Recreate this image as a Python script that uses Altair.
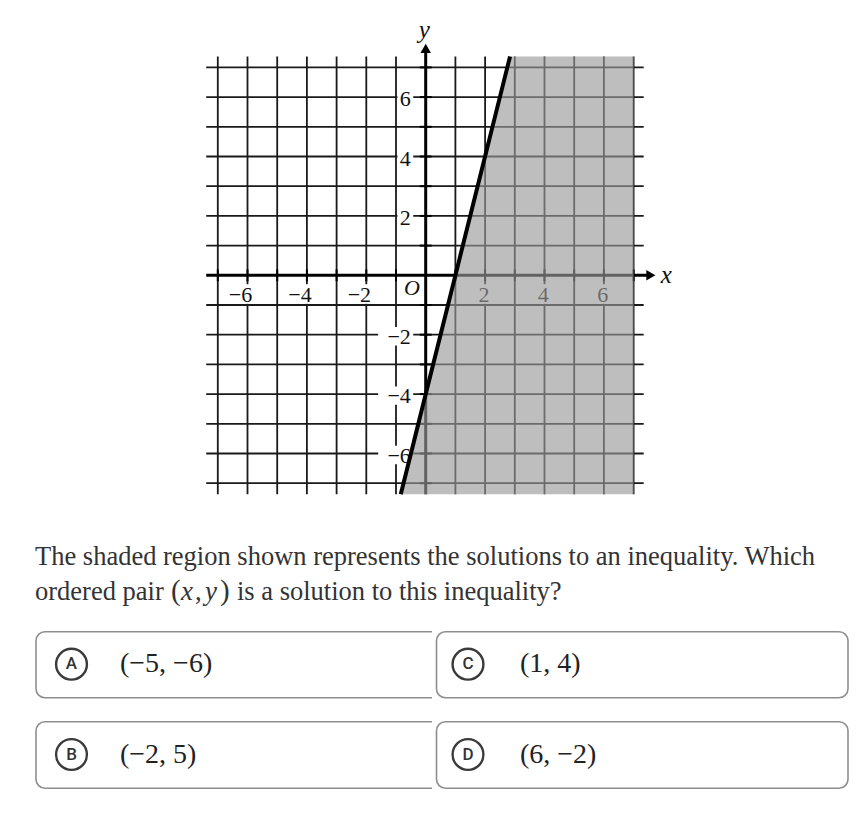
import altair as alt
import pandas as pd

# ---------------- data ----------------
grid_values = [-7, -6, -5, -4, -3, -2, -1, 1, 2, 3, 4, 5, 6, 7]
tick_values = [-7, -6, -5, -4, -3, -2, -1, 1, 2, 3, 4, 5, 6, 7]
x_label_values = [-6, -4, -2, 2, 4, 6]
y_label_values = [-6, -4, -2, 2, 4, 6]
grid_low, grid_high = -7.37, 7.37
boundary_x = [-0.84, 2.84]          # line y = 4x - 4 at the grid edges
boundary_y = [-7.37, 7.37]
shade_right_x = [7, 7]

question_line1 = "The shaded region shown represents the solutions to an inequality. Which"
question_line2 = ["ordered pair", "(", "x", ",", "y", ")", "is a solution to this inequality?"]
choice_letters = ["A", "B", "C", "D"]
choice_texts = ["(−5, −6)", "(−2, 5)", "(1, 4)", "(6, −2)"]

# ---------------- geometry ----------------
W, H = 852, 800
UNIT = 29.7
X0_PAGE, Y0_PAGE = 425.7, 275.3
x_dom = [-(X0_PAGE - 8) / UNIT, (8 + W - X0_PAGE) / UNIT]
y_dom = [-(8 + H - Y0_PAGE) / UNIT, (Y0_PAGE - 8) / UNIT]
xs = alt.Scale(domain=x_dom, nice=False, zero=False)
ys = alt.Scale(domain=y_dom, nice=False, zero=False)


def X(f):
    return alt.X(f, type="quantitative", scale=xs, axis=None)


def Y(f):
    return alt.Y(f, type="quantitative", scale=ys, axis=None)


def PX(f):
    return alt.X(f, type="quantitative", scale=None)


def PY(f):
    return alt.Y(f, type="quantitative", scale=None)


SERIF = "Liberation Serif"
INK = "#111111"

# grid
vgrid = pd.DataFrame({"v": grid_values, "lo": grid_low, "hi": grid_high})
hgrid = pd.DataFrame({"v": grid_values, "lo": -7.39, "hi": 7.34})
grid_v = alt.Chart(vgrid).mark_rule(color="#1a1a1a", strokeWidth=1.8).encode(
    x=X("v"), y=Y("lo"), y2="hi")
grid_h = alt.Chart(hgrid).mark_rule(color="#1a1a1a", strokeWidth=1.8).encode(
    y=Y("v"), x=X("lo"), x2="hi")

# axes
xaxis = alt.Chart(pd.DataFrame({"y": [0], "a": [-7.39], "b": [7.45]})).mark_rule(
    color="black", strokeWidth=3).encode(y=Y("y"), x=X("a"), x2="b")
yaxis = alt.Chart(pd.DataFrame({"x": [0], "a": [grid_low], "b": [7.55]})).mark_rule(
    color="black", strokeWidth=3).encode(x=X("x"), y=Y("a"), y2="b")

# ticks on axes
tx = pd.DataFrame({"t": tick_values, "a": -0.2, "b": 0.2})
xticks = alt.Chart(tx).mark_rule(color="black", strokeWidth=2).encode(x=X("t"), y=Y("a"), y2="b")
yticks = alt.Chart(tx).mark_rule(color="black", strokeWidth=2).encode(y=Y("t"), x=X("a"), x2="b")

# label backgrounds
xl = pd.DataFrame({"t": x_label_values})
xl["lab"] = [("−" + str(-v)) if v < 0 else str(v) for v in x_label_values]
xl["x0"] = [t - 0.78 if t < 0 else t - 0.3 for t in x_label_values]
xl["x1"] = [t + 0.25 for t in x_label_values]
xl["y0"] = -0.3
xl["y1"] = -0.96
xl["tx"] = [t + 0.16 if t < 0 else t - 0.04 for t in x_label_values]
xl["ty"] = -0.67

yl = pd.DataFrame({"t": y_label_values})
yl["lab"] = [("−" + str(-v)) if v < 0 else str(v) for v in y_label_values]
yl["x0"] = [-1.6 if t < 0 else -0.95 for t in y_label_values]
yl["x1"] = -0.42
yl["y0"] = [t - 0.36 for t in y_label_values]
yl["y1"] = [t + 0.26 for t in y_label_values]
yl["ty"] = [t - 0.08 for t in y_label_values]
yl["tx"] = -0.5

xbox = alt.Chart(xl).mark_rect(color="white").encode(x=X("x0"), x2="x1", y=Y("y0"), y2="y1")
ybox = alt.Chart(yl).mark_rect(color="white").encode(x=X("x0"), x2="x1", y=Y("y0"), y2="y1")

xl_neg = xl[xl.t < 0]
xl_pos = xl[xl.t > 0]
xlab_neg = alt.Chart(xl_neg).mark_text(font=SERIF, fontSize=22, color=INK, align="right",
                                      baseline="middle").encode(x=X("tx"), y=Y("ty"), text="lab:N")
xlab_pos = alt.Chart(xl_pos).mark_text(font=SERIF, fontSize=22, color=INK, align="center",
                                      baseline="middle").encode(x=X("tx"), y=Y("ty"), text="lab:N")
ylab = alt.Chart(yl).mark_text(font=SERIF, fontSize=22, color=INK, align="right",
                               baseline="middle").encode(x=X("tx"), y=Y("ty"), text="lab:N")
origin = alt.Chart(pd.DataFrame({"x": [-0.46], "y": [-0.44], "s": ["O"]})).mark_text(
    font=SERIF, fontSize=22, fontStyle="italic", color=INK, baseline="middle", align="center"
).encode(x=X("x"), y=Y("y"), text="s:N")

# shaded solution region
shade_df = pd.DataFrame({"y": boundary_y, "x": boundary_x, "x2": shade_right_x})
shade = alt.Chart(shade_df).mark_area(orient="horizontal", color="#999999", opacity=0.64).encode(
    y=Y("y"), x=X("x"), x2="x2")

boundary = alt.Chart(pd.DataFrame({"x": boundary_x, "y": boundary_y})).mark_line(
    color="black", strokeWidth=4).encode(x=X("x"), y=Y("y"))

# arrows and axis letters
arrow_up = alt.Chart(pd.DataFrame({"x": [0], "y": [7.64]})).mark_point(
    shape="triangle-up", filled=True, color="black", size=110, opacity=1).encode(x=X("x"), y=Y("y"))
arrow_right = alt.Chart(pd.DataFrame({"x": [7.58], "y": [0]})).mark_point(
    shape="triangle-right", filled=True, color="black", size=110, opacity=1).encode(x=X("x"), y=Y("y"))
axis_letters = alt.Chart(pd.DataFrame({"x": [8.1, -0.05], "y": [0, 8.27], "s": ["x", "y"]})).mark_text(
    font=SERIF, fontSize=25, fontStyle="italic", color=INK, baseline="middle", align="center"
).encode(x=X("x"), y=Y("y"), text="s:N")

# ---------------- question text (pixel layout) ----------------
q1 = alt.Chart(pd.DataFrame({"s": [question_line1]})).mark_text(
    font=SERIF, fontSize=26.5, color="#333333", align="left", baseline="alphabetic"
).encode(x=alt.value(27), y=alt.value(557), text="s:N")

seg_x = [27, 163, 173, 187, 197, 212, 229]
seg_style = ["normal", "normal", "italic", "normal", "italic", "normal", "normal"]
seg_size = [26.5, 29, 27, 26.5, 27, 29, 26.5]
q2 = pd.DataFrame({"s": question_line2, "px": seg_x, "st": seg_style, "fs": seg_size, "py": 592})
q2_norm = alt.Chart(q2[q2.st == "normal"]).mark_text(
    font=SERIF, color="#333333", align="left", baseline="alphabetic"
).encode(x=PX("px"), y=PY("py"), text="s:N", size=alt.Size("fs:Q", scale=None))
q2_ital = alt.Chart(q2[q2.st == "italic"]).mark_text(
    font=SERIF, fontStyle="italic", color="#333333", align="left", baseline="alphabetic"
).encode(x=PX("px"), y=PY("py"), text="s:N", size=alt.Size("fs:Q", scale=None))

# ---------------- answer choices (pixel layout) ----------------
col_of = {"A": 0, "B": 0, "C": 1, "D": 1}
row_of = {"A": 0, "B": 1, "C": 0, "D": 1}
box_x0 = [28, 428.5]
box_x1 = [444, 840]
box_y0 = [623.7, 713.7]
box_y1 = [689.7, 780.3]
circle_x = [63.5, 460]
text_x = [112, 512]

ch = pd.DataFrame({"letter": choice_letters, "txt": choice_texts})
ch["c"] = ch.letter.map(col_of)
ch["r"] = ch.letter.map(row_of)
ch["x0"] = [box_x0[c] for c in ch.c]
ch["x1"] = [box_x1[c] for c in ch.c]
ch["y0"] = [box_y0[r] for r in ch.r]
ch["y1"] = [box_y1[r] for r in ch.r]
ch["cy"] = (ch.y0 + ch.y1) / 2 - 0.5
ch["cx"] = [circle_x[c] for c in ch.c]
ch["tx"] = [text_x[c] for c in ch.c]

box_style = dict(fill="white", stroke="#8e8e8e", strokeWidth=1.6, cornerRadius=9)
left_boxes = alt.Chart(ch[ch.c == 0]).mark_rect(**box_style).encode(
    x=PX("x0"), x2="x1", y=PY("y0"), y2="y1")
strip = alt.Chart(pd.DataFrame({"a": [424], "b": [446], "c": [615], "d": [790]})).mark_rect(
    color="white").encode(x=PX("a"), x2="b", y=PY("c"), y2="d")
right_boxes = alt.Chart(ch[ch.c == 1]).mark_rect(**box_style).encode(
    x=PX("x0"), x2="x1", y=PY("y0"), y2="y1")
circles = alt.Chart(ch).mark_point(shape="circle", size=950, filled=False, color="#3a3a3a",
                                   strokeWidth=2.4, opacity=1).encode(x=PX("cx"), y=PY("cy"))
letters = alt.Chart(ch).mark_text(font="Roboto", fontSize=17, fontWeight=500, color="#333333",
                                  align="center", baseline="middle").encode(
    x=PX("cx"), y=PY("cy"), text="letter:N")
answers = alt.Chart(ch).mark_text(font=SERIF, fontSize=28, color="#222222", align="left",
                                  baseline="middle").encode(x=PX("tx"), y=PY("cy"), text="txt:N")

chart = alt.layer(
    grid_v, grid_h, xaxis, yaxis, xticks, yticks, xbox, ybox,
    xlab_neg, xlab_pos, ylab, origin, shade, boundary, arrow_up, arrow_right, axis_letters,
    q1, q2_norm, q2_ital, left_boxes, strip, right_boxes, circles, letters, answers
).properties(width=W, height=H, padding=0, background="white").configure_view(stroke=None)

chart.save("out.html", embed_options={"renderer": "svg", "actions": False})
